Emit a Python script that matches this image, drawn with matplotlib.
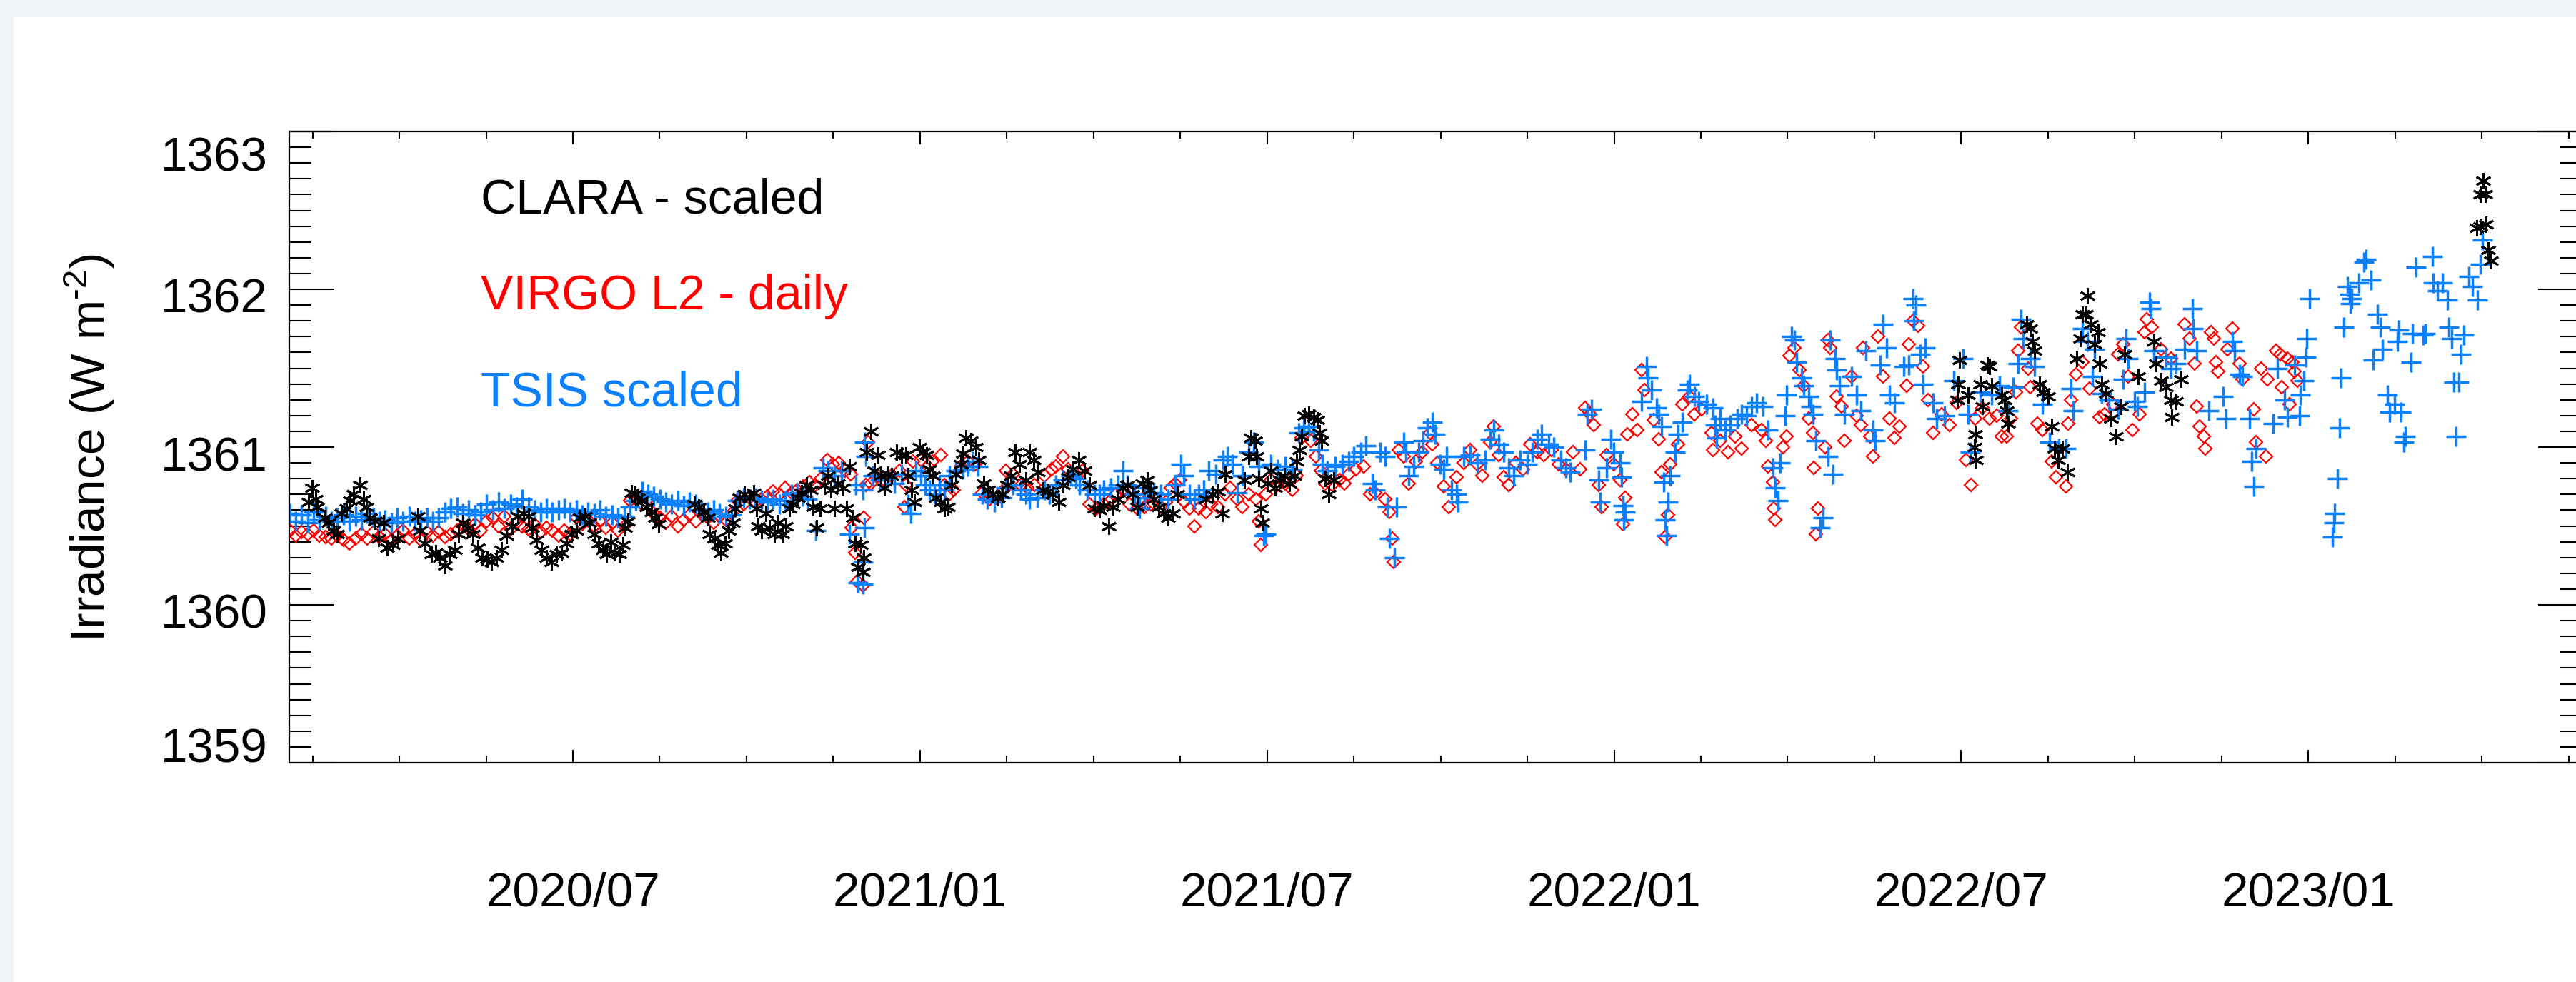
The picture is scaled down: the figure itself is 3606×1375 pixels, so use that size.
import numpy as np
import matplotlib.pyplot as plt
from matplotlib.ticker import MultipleLocator
from matplotlib.transforms import ScaledTranslation
from matplotlib.patches import Rectangle

plt.rcParams['font.family'] = ['Liberation Sans', 'DejaVu Sans']
plt.rcParams['mathtext.default'] = 'regular'

# ---- data (decimal year, irradiance W m-2) ----
# daily runs at the start, listed at a regular cadence
dense_start = 2020.092
dense_step = 0.0086

tsis_dense = [
    1360.58, 1360.53, 1360.57, 1360.52, 1360.59, 1360.54,
    1360.56, 1360.53, 1360.55, 1360.57, 1360.53, 1360.56, 1360.54, 1360.58,
    1360.55, 1360.53, 1360.54, 1360.52, 1360.55, 1360.53, 1360.56, 1360.53, 1360.54, 1360.55, 1360.53, 1360.55,
    1360.59, 1360.61, 1360.62, 1360.58, 1360.60, 1360.57, 1360.59,
    1360.64, 1360.60, 1360.65, 1360.61, 1360.64, 1360.62, 1360.67,
    1360.62, 1360.60, 1360.59, 1360.61, 1360.59, 1360.60, 1360.61, 1360.59,
    1360.60, 1360.57, 1360.59, 1360.58, 1360.60,
    1360.56, 1360.57, 1360.55, 1360.56,
    1360.62, 1360.66, 1360.72, 1360.70, 1360.69, 1360.67,
    1360.65, 1360.64, 1360.66, 1360.63, 1360.65, 1360.64,
    1360.60, 1360.59, 1360.60, 1360.58, 1360.56, 1360.57,
    1360.66, 1360.68, 1360.67, 1360.68,
    1360.66, 1360.65, 1360.67, 1360.64, 1360.66,
    1360.70, 1360.71, 1360.69,
]

virgo_dense = [
    1360.47, 1360.44, 1360.46, 1360.45, 1360.47, 1360.44,
    1360.43, 1360.42, 1360.44, 1360.41, 1360.39, 1360.42,
    1360.45, 1360.42, 1360.46, 1360.43, 1360.45, 1360.41, 1360.44,
    1360.47, 1360.42, 1360.45, 1360.41, 1360.46,
    1360.44, 1360.46, 1360.43, 1360.45, 1360.47,
    1360.50, 1360.48, 1360.51, 1360.47,
    1360.53, 1360.55, 1360.50, 1360.56, 1360.48, 1360.52,
    1360.50, 1360.48, 1360.51, 1360.46, 1360.49, 1360.47,
    1360.44, 1360.47, 1360.45,
    1360.55, 1360.51, 1360.54, 1360.50, 1360.53,
    1360.49, 1360.52, 1360.47, 1360.50,
    1360.66, 1360.68, 1360.64, 1360.67,
    1360.58, 1360.55, 1360.52, 1360.56, 1360.50, 1360.54,
    1360.57, 1360.53, 1360.59, 1360.55, 1360.52, 1360.56, 1360.54, 1360.58,
    1360.66, 1360.64, 1360.68, 1360.65, 1360.67, 1360.69,
    1360.72, 1360.70, 1360.74, 1360.71, 1360.73, 1360.75,
    1360.78, 1360.76, 1360.80, 1360.92, 1360.89, 1360.90, 1360.85, 1360.83,
]

clara_pts = [
    (2020.119, 1360.65), (2020.124, 1360.74), (2020.129, 1360.67), (2020.132, 1360.62), (2020.143, 1360.55),
    (2020.148, 1360.52), (2020.155, 1360.47), (2020.160, 1360.45), (2020.167, 1360.58), (2020.174, 1360.61),
    (2020.179, 1360.66), (2020.184, 1360.70), (2020.193, 1360.76), (2020.198, 1360.67), (2020.203, 1360.62),
    (2020.208, 1360.55), (2020.215, 1360.53), (2020.220, 1360.42), (2020.227, 1360.52), (2020.232, 1360.36),
    (2020.241, 1360.38), (2020.248, 1360.42), (2020.277, 1360.56), (2020.280, 1360.47), (2020.287, 1360.39),
    (2020.296, 1360.32), (2020.302, 1360.33), (2020.309, 1360.30), (2020.316, 1360.25), (2020.323, 1360.32),
    (2020.330, 1360.35), (2020.335, 1360.45), (2020.342, 1360.52), (2020.349, 1360.49), (2020.356, 1360.45),
    (2020.363, 1360.36), (2020.369, 1360.30), (2020.376, 1360.29), (2020.383, 1360.27), (2020.390, 1360.30),
    (2020.397, 1360.35), (2020.404, 1360.44), (2020.412, 1360.50), (2020.421, 1360.56), (2020.429, 1360.58),
    (2020.436, 1360.56), (2020.441, 1360.49), (2020.448, 1360.41), (2020.455, 1360.35), (2020.462, 1360.30),
    (2020.469, 1360.27), (2020.476, 1360.32), (2020.484, 1360.33), (2020.491, 1360.39), (2020.498, 1360.45),
    (2020.505, 1360.47), (2020.510, 1360.55), (2020.517, 1360.56), (2020.524, 1360.52), (2020.531, 1360.45),
    (2020.537, 1360.39), (2020.543, 1360.35), (2020.548, 1360.32), (2020.555, 1360.40), (2020.561, 1360.33),
    (2020.567, 1360.32), (2020.572, 1360.38), (2020.575, 1360.49), (2020.579, 1360.53), (2020.584, 1360.71),
    (2020.589, 1360.70), (2020.594, 1360.68), (2020.599, 1360.66), (2020.606, 1360.62), (2020.613, 1360.59),
    (2020.618, 1360.55), (2020.623, 1360.51), (2020.675, 1360.64), (2020.681, 1360.62), (2020.688, 1360.59),
    (2020.694, 1360.55), (2020.697, 1360.45), (2020.704, 1360.42), (2020.709, 1360.38), (2020.713, 1360.33),
    (2020.719, 1360.39), (2020.724, 1360.47), (2020.730, 1360.52), (2020.734, 1360.61), (2020.740, 1360.68),
    (2020.747, 1360.70), (2020.754, 1360.68), (2020.760, 1360.71), (2020.764, 1360.61), (2020.767, 1360.50),
    (2020.772, 1360.47), (2020.778, 1360.58), (2020.783, 1360.49), (2020.790, 1360.45), (2020.795, 1360.52),
    (2020.802, 1360.45), (2020.807, 1360.50), (2020.812, 1360.61), (2020.817, 1360.64), (2020.824, 1360.68),
    (2020.829, 1360.71), (2020.836, 1360.76), (2020.843, 1360.73), (2020.846, 1360.62), (2020.851, 1360.49),
    (2020.856, 1360.61), (2020.862, 1360.76), (2020.867, 1360.82), (2020.872, 1360.73), (2020.877, 1360.61),
    (2020.882, 1360.77), (2020.889, 1360.74), (2020.894, 1360.61), (2020.898, 1360.88), (2020.903, 1360.55),
    (2020.907, 1360.39), (2020.911, 1360.24), (2020.915, 1360.38), (2020.918, 1360.21), (2020.919, 1360.30),
    (2020.923, 1360.97), (2020.929, 1361.10), (2020.934, 1360.85), (2020.939, 1360.95), (2020.944, 1360.82),
    (2020.949, 1360.74), (2020.954, 1360.83), (2020.959, 1360.82), (2020.966, 1360.97), (2020.973, 1360.95),
    (2020.980, 1360.95), (2020.983, 1360.82), (2020.988, 1360.73), (2020.992, 1360.65), (2020.999, 1361.00),
    (2021.004, 1360.97), (2021.009, 1360.95), (2021.014, 1360.86), (2021.019, 1360.82), (2021.023, 1360.68),
    (2021.030, 1360.65), (2021.035, 1360.61), (2021.040, 1360.62), (2021.045, 1360.76), (2021.052, 1360.83),
    (2021.059, 1360.89), (2021.062, 1360.96), (2021.066, 1361.06), (2021.073, 1361.04), (2021.080, 1361.00),
    (2021.085, 1360.92), (2021.092, 1360.77), (2021.098, 1360.73), (2021.105, 1360.70), (2021.112, 1360.68),
    (2021.119, 1360.70), (2021.126, 1360.76), (2021.131, 1360.82), (2021.137, 1360.97), (2021.143, 1360.89),
    (2021.152, 1360.79), (2021.158, 1360.97), (2021.164, 1360.92), (2021.170, 1360.84), (2021.177, 1360.73),
    (2021.184, 1360.72), (2021.191, 1360.70), (2021.200, 1360.65), (2021.206, 1360.76), (2021.213, 1360.81),
    (2021.220, 1360.86), (2021.229, 1360.92), (2021.237, 1360.85), (2021.244, 1360.76), (2021.251, 1360.61),
    (2021.258, 1360.60), (2021.265, 1360.63), (2021.272, 1360.50), (2021.278, 1360.62), (2021.285, 1360.67),
    (2021.292, 1360.74), (2021.299, 1360.76), (2021.306, 1360.70), (2021.313, 1360.62), (2021.320, 1360.77),
    (2021.327, 1360.79), (2021.332, 1360.73), (2021.337, 1360.67), (2021.344, 1360.62), (2021.351, 1360.58),
    (2021.357, 1360.55), (2021.364, 1360.58), (2021.371, 1360.70), (2021.412, 1360.67), (2021.421, 1360.70),
    (2021.429, 1360.72), (2021.435, 1360.58), (2021.440, 1360.83), (2021.467, 1360.79), (2021.474, 1360.94),
    (2021.477, 1361.06), (2021.483, 1361.04), (2021.485, 1360.94), (2021.488, 1360.80), (2021.491, 1360.61),
    (2021.493, 1360.52), (2021.500, 1360.77), (2021.505, 1360.85), (2021.512, 1360.74), (2021.519, 1360.79),
    (2021.525, 1360.82), (2021.532, 1360.77), (2021.539, 1360.82), (2021.543, 1360.91), (2021.547, 1360.98),
    (2021.550, 1361.07), (2021.554, 1361.20), (2021.560, 1361.21), (2021.567, 1361.19), (2021.572, 1361.17),
    (2021.575, 1361.09), (2021.579, 1361.04), (2021.584, 1360.80), (2021.589, 1360.70), (2021.596, 1360.79),
    (2022.495, 1361.30), (2022.496, 1361.40), (2022.498, 1361.55), (2022.510, 1361.33), (2022.519, 1361.00),
    (2022.520, 1361.08), (2022.521, 1360.92), (2022.527, 1361.40), (2022.531, 1361.26), (2022.538, 1361.52),
    (2022.541, 1361.51), (2022.544, 1361.39), (2022.558, 1361.33), (2022.562, 1361.30), (2022.565, 1361.23),
    (2022.568, 1361.15), (2022.594, 1361.78), (2022.599, 1361.75), (2022.603, 1361.67), (2022.606, 1361.61),
    (2022.613, 1361.40), (2022.618, 1361.35), (2022.625, 1361.32), (2022.630, 1361.13), (2022.634, 1360.99),
    (2022.640, 1360.92), (2022.646, 1360.99), (2022.653, 1360.84), (2022.666, 1361.56), (2022.671, 1361.69),
    (2022.675, 1361.84), (2022.680, 1361.84), (2022.682, 1361.96), (2022.687, 1361.78), (2022.692, 1361.65),
    (2022.697, 1361.73), (2022.699, 1361.53), (2022.702, 1361.40), (2022.709, 1361.34), (2022.716, 1361.18),
    (2022.723, 1361.07), (2022.730, 1361.26), (2022.735, 1361.59), (2022.755, 1361.45), (2022.778, 1361.67),
    (2022.781, 1361.53), (2022.788, 1361.42), (2022.795, 1361.38), (2022.802, 1361.30), (2022.803, 1361.19),
    (2022.809, 1361.29), (2022.817, 1361.43),
    (2023.243, 1362.39), (2023.248, 1362.60), (2023.248, 1362.40), (2023.252, 1362.69), (2023.255, 1362.60),
    (2023.256, 1362.41), (2023.259, 1362.25), (2023.263, 1362.18),
]

tsis_pts = [
    (2020.838, 1360.67), (2020.850, 1360.47), (2020.860, 1360.87), (2020.867, 1360.85), (2020.877, 1360.82),
    (2020.887, 1360.85), (2020.898, 1360.45), (2020.908, 1360.76), (2020.911, 1360.14), (2020.918, 1360.13),
    (2020.918, 1360.27), (2020.920, 1360.49), (2020.918, 1360.73), (2020.922, 1360.94), (2020.920, 1361.03),
    (2020.932, 1360.82), (2020.942, 1360.79), (2020.953, 1360.80), (2020.963, 1360.77), (2020.973, 1360.83),
    (2020.983, 1360.64), (2020.987, 1360.58), (2020.994, 1360.85), (2021.001, 1360.82), (2021.007, 1360.76),
    (2021.014, 1360.73), (2021.021, 1360.70), (2021.028, 1360.76), (2021.035, 1360.73), (2021.042, 1360.82),
    (2021.052, 1360.85), (2021.062, 1360.86), (2021.069, 1360.88), (2021.076, 1360.91), (2021.083, 1360.88),
    (2021.090, 1360.70), (2021.097, 1360.67), (2021.107, 1360.65), (2021.117, 1360.68), (2021.124, 1360.74),
    (2021.134, 1360.76), (2021.145, 1360.73), (2021.152, 1360.70), (2021.158, 1360.67), (2021.169, 1360.68),
    (2021.179, 1360.73), (2021.186, 1360.70), (2021.196, 1360.76), (2021.206, 1360.79), (2021.217, 1360.82),
    (2021.224, 1360.80), (2021.230, 1360.76), (2021.241, 1360.73), (2021.251, 1360.70), (2021.258, 1360.70),
    (2021.265, 1360.73), (2021.275, 1360.74), (2021.285, 1360.76), (2021.292, 1360.85), (2021.299, 1360.76),
    (2021.309, 1360.70), (2021.316, 1360.61), (2021.323, 1360.68),
    (2021.327, 1360.74), (2021.337, 1360.71), (2021.347, 1360.70), (2021.357, 1360.67), (2021.368, 1360.76),
    (2021.376, 1360.89), (2021.380, 1360.82), (2021.388, 1360.70), (2021.395, 1360.67), (2021.402, 1360.70),
    (2021.409, 1360.73), (2021.416, 1360.85), (2021.426, 1360.83), (2021.436, 1360.92), (2021.443, 1360.94),
    (2021.450, 1360.89), (2021.457, 1360.71), (2021.464, 1360.82), (2021.474, 1360.97), (2021.481, 1361.03),
    (2021.488, 1360.88), (2021.495, 1360.44), (2021.498, 1360.45), (2021.505, 1360.89), (2021.515, 1360.86),
    (2021.526, 1360.88), (2021.536, 1360.86), (2021.546, 1361.09), (2021.553, 1361.12), (2021.560, 1361.13),
    (2021.567, 1361.10), (2021.574, 1360.98), (2021.580, 1360.89), (2021.587, 1360.85), (2021.598, 1360.88),
    (2021.608, 1360.89), (2021.618, 1360.91), (2021.625, 1360.94), (2021.635, 1360.97), (2021.642, 1361.01),
    (2021.652, 1360.77), (2021.656, 1360.73), (2021.663, 1360.97), (2021.670, 1360.94), (2021.673, 1360.62),
    (2021.676, 1360.42), (2021.683, 1360.30), (2021.687, 1360.62), (2021.697, 1361.03), (2021.700, 1360.97),
    (2021.704, 1360.82), (2021.711, 1360.88), (2021.718, 1360.97), (2021.725, 1361.04), (2021.731, 1361.12),
    (2021.738, 1361.16), (2021.742, 1361.08), (2021.749, 1360.89), (2021.755, 1360.86), (2021.759, 1360.94),
    (2021.766, 1360.73), (2021.773, 1360.70), (2021.775, 1360.65), (2021.783, 1360.94), (2021.793, 1360.95),
    (2021.803, 1360.90), (2021.814, 1360.92), (2021.821, 1361.05), (2021.827, 1361.11), (2021.834, 1361.02),
    (2021.841, 1360.97), (2021.848, 1360.87), (2021.855, 1360.82), (2021.865, 1360.92), (2021.875, 1360.89),
    (2021.882, 1360.97), (2021.889, 1361.05), (2021.896, 1361.08), (2021.906, 1361.02), (2021.913, 1361.00),
    (2021.923, 1360.92), (2021.930, 1360.87), (2021.937, 1360.84), (2021.958, 1360.98), (2021.961, 1361.21),
    (2021.968, 1361.24), (2021.978, 1360.79), (2021.980, 1360.65), (2021.989, 1360.87), (2021.995, 1361.05),
    (2021.999, 1360.97), (2022.009, 1360.90), (2022.011, 1360.81), (2022.013, 1360.63), (2022.016, 1360.59),
    (2022.014, 1360.54), (2022.040, 1361.29), (2022.047, 1361.51), (2022.049, 1361.44), (2022.054, 1361.36),
    (2022.061, 1361.25), (2022.064, 1361.21), (2022.068, 1361.13), (2022.071, 1360.78), (2022.078, 1360.65),
    (2022.074, 1360.54), (2022.076, 1360.44), (2022.081, 1360.82), (2022.088, 1360.97), (2022.092, 1361.08),
    (2022.098, 1361.16), (2022.105, 1361.36), (2022.109, 1361.40), (2022.116, 1361.32), (2022.122, 1361.29),
    (2022.133, 1361.27), (2022.143, 1361.25), (2022.146, 1361.14), (2022.148, 1361.06),
    (2022.153, 1361.18), (2022.160, 1361.11), (2022.167, 1361.14), (2022.177, 1361.18), (2022.184, 1361.21),
    (2022.191, 1361.20), (2022.198, 1361.26), (2022.205, 1361.28), (2022.215, 1361.26), (2022.222, 1361.11),
    (2022.229, 1360.87), (2022.232, 1360.74), (2022.236, 1360.66), (2022.239, 1360.90), (2022.246, 1361.20),
    (2022.249, 1361.33), (2022.256, 1361.70), (2022.260, 1361.68), (2022.263, 1361.54), (2022.270, 1361.44),
    (2022.273, 1361.39), (2022.280, 1361.32), (2022.284, 1361.26), (2022.287, 1361.21), (2022.291, 1361.04),
    (2022.297, 1360.49), (2022.301, 1360.55), (2022.308, 1360.94), (2022.311, 1361.68), (2022.315, 1360.83),
    (2022.318, 1361.56), (2022.321, 1361.49), (2022.325, 1361.39), (2022.332, 1361.21), (2022.342, 1361.45),
    (2022.349, 1361.33), (2022.356, 1361.23), (2022.363, 1361.61), (2022.373, 1361.11), (2022.376, 1361.04),
    (2022.383, 1361.52), (2022.387, 1361.78), (2022.393, 1361.63), (2022.397, 1361.33), (2022.404, 1361.28),
    (2022.417, 1361.51), (2022.424, 1361.52), (2022.431, 1361.94), (2022.435, 1361.90), (2022.432, 1361.80),
    (2022.441, 1361.59), (2022.448, 1361.63), (2022.445, 1361.40), (2022.459, 1361.28), (2022.465, 1361.18),
    (2022.476, 1361.20), (2022.489, 1361.42), (2022.503, 1361.56), (2022.510, 1361.21), (2022.513, 1360.97),
    (2022.527, 1361.35), (2022.544, 1361.33), (2022.555, 1361.39),
    (2022.568, 1361.23), (2022.575, 1361.38), (2022.582, 1361.53), (2022.586, 1361.81), (2022.589, 1361.69),
    (2022.599, 1361.56), (2022.606, 1361.51), (2022.617, 1361.27), (2022.627, 1361.03), (2022.641, 1360.99),
    (2022.651, 1360.99), (2022.658, 1361.37), (2022.661, 1361.23), (2022.675, 1361.75), (2022.682, 1361.67),
    (2022.689, 1361.45), (2022.692, 1361.62), (2022.702, 1361.34), (2022.713, 1361.30), (2022.726, 1361.24),
    (2022.733, 1361.43), (2022.737, 1361.69), (2022.740, 1361.56), (2022.750, 1361.29), (2022.754, 1361.26),
    (2022.764, 1361.35), (2022.771, 1361.92), (2022.773, 1361.88), (2022.778, 1361.61), (2022.795, 1361.57),
    (2022.802, 1361.50), (2022.809, 1361.53), (2022.822, 1361.62), (2022.833, 1361.88), (2022.834, 1361.75),
    (2022.839, 1361.61), (2022.857, 1361.23), (2022.877, 1361.32), (2022.881, 1361.18), (2022.891, 1361.67),
    (2022.894, 1361.61), (2022.901, 1361.46), (2022.905, 1361.45), (2022.915, 1361.18), (2022.925, 1360.99),
    (2022.918, 1360.91), (2022.922, 1360.75), (2022.949, 1361.15), (2022.956, 1361.50), (2022.966, 1361.30),
    (2022.970, 1361.19),
    (2022.980, 1361.52), (2022.987, 1361.20), (2022.988, 1361.33), (2022.994, 1361.42), (2022.997, 1361.57),
    (2022.998, 1361.69), (2023.002, 1361.94), (2023.035, 1360.43), (2023.037, 1360.52), (2023.038, 1360.58),
    (2023.042, 1360.80), (2023.045, 1361.12), (2023.047, 1361.44), (2023.051, 1361.76), (2023.056, 1362.02),
    (2023.059, 1361.97), (2023.061, 1361.91), (2023.063, 1361.94), (2023.073, 1362.04), (2023.080, 1362.17),
    (2023.083, 1362.19), (2023.090, 1362.06), (2023.093, 1361.55), (2023.100, 1361.84), (2023.104, 1361.76),
    (2023.107, 1361.62), (2023.114, 1361.33), (2023.117, 1361.22), (2023.124, 1361.27), (2023.128, 1361.67),
    (2023.131, 1361.74), (2023.134, 1361.22), (2023.138, 1361.03), (2023.140, 1361.07), (2023.148, 1361.54),
    (2023.150, 1361.72), (2023.155, 1362.14), (2023.165, 1361.71), (2023.169, 1361.72), (2023.179, 1362.21),
    (2023.180, 1362.04), (2023.186, 1361.99), (2023.193, 1362.04), (2023.200, 1361.93), (2023.203, 1361.76),
    (2023.207, 1361.69), (2023.210, 1361.41), (2023.213, 1361.07), (2023.217, 1361.41), (2023.220, 1361.59),
    (2023.224, 1361.71), (2023.231, 1362.08), (2023.237, 1362.02), (2023.244, 1361.93), (2023.248, 1362.16),
    (2023.251, 1362.31),
]

virgo_pts = [
    (2020.901, 1360.49), (2020.906, 1360.33), (2020.910, 1360.15), (2020.918, 1360.12), (2020.919, 1360.55),
    (2020.922, 1360.76), (2020.925, 1361.03), (2020.929, 1360.77), (2020.939, 1360.82), (2020.949, 1360.79),
    (2020.959, 1360.82), (2020.970, 1360.85), (2020.977, 1360.62), (2020.980, 1360.76), (2020.990, 1360.91),
    (2021.001, 1360.92), (2021.011, 1360.88), (2021.018, 1360.91), (2021.030, 1360.95), (2021.035, 1360.76),
    (2021.042, 1360.70), (2021.049, 1360.73), (2021.059, 1360.88), (2021.069, 1360.91), (2021.079, 1360.89),
    (2021.090, 1360.71), (2021.100, 1360.67), (2021.110, 1360.68), (2021.121, 1360.73), (2021.124, 1360.85),
    (2021.134, 1360.83), (2021.145, 1360.76), (2021.155, 1360.74), (2021.165, 1360.76), (2021.179, 1360.82),
    (2021.189, 1360.86), (2021.196, 1360.88), (2021.206, 1360.94), (2021.213, 1360.86), (2021.224, 1360.83),
    (2021.234, 1360.85), (2021.244, 1360.64), (2021.254, 1360.61), (2021.265, 1360.64), (2021.272, 1360.65),
    (2021.282, 1360.70), (2021.292, 1360.73), (2021.302, 1360.64), (2021.313, 1360.61), (2021.323, 1360.62),
    (2021.327, 1360.70), (2021.333, 1360.64), (2021.340, 1360.67), (2021.347, 1360.62), (2021.354, 1360.65),
    (2021.361, 1360.74), (2021.368, 1360.77), (2021.375, 1360.79), (2021.381, 1360.65), (2021.388, 1360.61),
    (2021.395, 1360.50), (2021.402, 1360.61), (2021.412, 1360.59), (2021.419, 1360.64), (2021.429, 1360.62),
    (2021.440, 1360.70), (2021.447, 1360.74), (2021.457, 1360.67), (2021.464, 1360.62), (2021.474, 1360.70),
    (2021.484, 1360.67), (2021.488, 1360.53), (2021.491, 1360.38), (2021.498, 1360.70), (2021.505, 1360.79),
    (2021.515, 1360.76), (2021.526, 1360.77), (2021.536, 1360.73), (2021.543, 1360.82), (2021.550, 1361.06),
    (2021.556, 1361.09), (2021.563, 1361.04), (2021.570, 1360.94), (2021.577, 1360.85), (2021.584, 1360.77),
    (2021.594, 1360.76), (2021.604, 1360.79), (2021.611, 1360.77), (2021.618, 1360.83), (2021.628, 1360.86),
    (2021.639, 1360.88), (2021.649, 1360.70), (2021.656, 1360.71), (2021.670, 1360.67), (2021.676, 1360.59),
    (2021.680, 1360.42), (2021.682, 1360.27), (2021.690, 1360.98), (2021.697, 1360.94), (2021.704, 1360.77),
    (2021.714, 1360.91), (2021.724, 1360.97), (2021.735, 1361.09),
    (2021.738, 1361.02), (2021.745, 1360.90), (2021.755, 1360.75), (2021.762, 1360.62), (2021.773, 1360.81),
    (2021.783, 1360.90), (2021.793, 1360.98), (2021.803, 1360.89), (2021.810, 1360.82), (2021.821, 1361.03),
    (2021.827, 1361.13), (2021.834, 1360.95), (2021.841, 1360.81), (2021.848, 1360.76), (2021.858, 1360.90),
    (2021.869, 1360.86), (2021.879, 1361.02), (2021.889, 1360.97), (2021.899, 1360.95), (2021.910, 1360.98),
    (2021.920, 1360.89), (2021.930, 1360.86), (2021.941, 1360.97), (2021.951, 1360.86), (2021.958, 1361.25),
    (2021.965, 1361.21), (2021.971, 1361.14), (2021.978, 1360.76), (2021.982, 1360.62), (2021.989, 1360.95),
    (2021.999, 1360.89), (2022.009, 1360.79), (2022.016, 1360.68), (2022.013, 1360.51), (2022.019, 1361.08),
    (2022.026, 1361.21), (2022.033, 1361.11), (2022.040, 1361.49), (2022.044, 1361.36), (2022.057, 1361.17),
    (2022.064, 1361.05), (2022.068, 1360.84), (2022.078, 1360.57), (2022.074, 1360.43), (2022.081, 1360.89),
    (2022.092, 1361.02), (2022.098, 1361.27), (2022.109, 1361.32), (2022.116, 1361.21), (2022.126, 1361.24),
    (2022.140, 1361.09), (2022.143, 1360.98),
    (2022.153, 1361.04), (2022.164, 1360.97), (2022.174, 1361.07), (2022.184, 1360.99), (2022.198, 1361.14),
    (2022.212, 1361.11), (2022.219, 1361.04), (2022.222, 1360.88), (2022.229, 1360.78), (2022.230, 1360.61),
    (2022.232, 1360.54), (2022.243, 1361.00), (2022.249, 1361.07), (2022.253, 1361.58), (2022.260, 1361.63),
    (2022.267, 1361.49), (2022.273, 1361.39), (2022.280, 1361.18), (2022.287, 1361.09), (2022.288, 1360.87),
    (2022.294, 1360.61), (2022.291, 1360.45), (2022.304, 1361.00), (2022.308, 1361.68), (2022.311, 1361.63),
    (2022.321, 1361.32), (2022.328, 1361.26), (2022.332, 1361.04), (2022.342, 1361.45), (2022.349, 1361.20),
    (2022.356, 1361.14), (2022.359, 1361.63), (2022.369, 1361.07), (2022.373, 1360.94), (2022.380, 1361.70),
    (2022.387, 1361.45), (2022.397, 1361.18), (2022.404, 1361.06), (2022.411, 1361.13), (2022.421, 1361.39),
    (2022.424, 1361.65), (2022.431, 1361.80), (2022.438, 1361.77), (2022.445, 1361.51), (2022.452, 1361.30),
    (2022.459, 1361.09), (2022.472, 1361.21), (2022.483, 1361.14), (2022.493, 1361.28), (2022.507, 1360.92),
    (2022.514, 1360.76), (2022.520, 1361.18), (2022.531, 1361.25), (2022.541, 1361.18), (2022.551, 1361.20),
    (2022.558, 1361.07),
    (2022.565, 1361.07), (2022.572, 1361.18), (2022.579, 1361.35), (2022.582, 1361.61), (2022.586, 1361.76),
    (2022.596, 1361.50), (2022.599, 1361.38), (2022.610, 1361.15), (2022.617, 1361.11), (2022.630, 1360.91),
    (2022.637, 1360.81), (2022.651, 1360.75), (2022.654, 1361.15), (2022.658, 1361.30), (2022.665, 1361.46),
    (2022.675, 1361.54), (2022.685, 1361.37), (2022.699, 1361.19), (2022.706, 1361.21), (2022.719, 1361.27),
    (2022.726, 1361.59), (2022.733, 1361.65), (2022.740, 1361.45), (2022.747, 1361.11), (2022.757, 1361.21),
    (2022.764, 1361.73), (2022.767, 1361.81), (2022.774, 1361.76), (2022.788, 1361.62), (2022.802, 1361.56),
    (2022.822, 1361.78), (2022.829, 1361.69), (2022.836, 1361.53), (2022.839, 1361.26), (2022.843, 1361.13),
    (2022.850, 1361.07), (2022.852, 1360.99), (2022.860, 1361.73), (2022.864, 1361.69), (2022.867, 1361.54),
    (2022.870, 1361.48), (2022.884, 1361.62), (2022.891, 1361.75), (2022.901, 1361.53), (2022.905, 1361.43),
    (2022.922, 1361.24), (2022.925, 1361.03), (2022.939, 1360.94), (2022.932, 1361.50), (2022.941, 1361.43),
    (2022.953, 1361.61), (2022.960, 1361.59), (2022.962, 1361.38), (2022.970, 1361.56),
    (2022.973, 1361.27), (2022.977, 1361.54), (2022.980, 1361.48), (2022.984, 1361.42),
]

xtick_years = [2020.5, 2021.0, 2021.5, 2022.0, 2022.5, 2023.0]
xtick_labels = ['2020/07', '2021/01', '2021/07', '2022/01', '2022/07', '2023/01']
ytick_vals = [1359, 1360, 1361, 1362, 1363]

labels = ['CLARA - scaled', 'VIRGO L2 - daily', 'TSIS scaled']
blue = '#0a80ff'
colors = ['black', 'red', blue]

# ---- assemble series ----
dense_year = dense_start + dense_step * np.arange(max(len(tsis_dense), len(virgo_dense)))
clara_year, clara_irr = zip(*clara_pts)
tsis_year = np.concatenate([dense_year[:len(tsis_dense)], [p[0] for p in tsis_pts]])
tsis_irr = np.concatenate([tsis_dense, [p[1] for p in tsis_pts]])
virgo_year = np.concatenate([dense_year[:len(virgo_dense)], [p[0] for p in virgo_pts]])
virgo_irr = np.concatenate([virgo_dense, [p[1] for p in virgo_pts]])

# ---- figure ----
W, H = 3606, 1375
fig = plt.figure(figsize=(W / 100, H / 100), dpi=100)
fig.patch.set_facecolor('#eff4f9')
fig.patches.append(Rectangle((19 / W, 0), 1, 1 - 24 / H, transform=fig.transFigure,
                             facecolor='white', edgecolor='none', zorder=-10))

ax = fig.add_axes([405 / W, 1 - 1068 / H, (3615 - 405) / W, (1068 - 184) / H])
ax.set_zorder(1)

ax.plot(virgo_year, virgo_irr, ls='none', marker='D', ms=9.5, mfc='none', mec='red', mew=1.6)
ax.plot(tsis_year, tsis_irr, ls='none', marker='+', ms=20, mec=blue, mew=2.5)
ax.plot(clara_year, clara_irr, ls='none', marker=(6, 2, 0), ms=16, mec='black', mew=2.1)

ax.set_xlim(2020.0914, 2023.395)
ax.set_ylim(1359, 1363)
ax.set_xticks(xtick_years)
ax.set_xticklabels(xtick_labels)
ax.xaxis.set_minor_locator(MultipleLocator(0.125))
ax.set_yticks(ytick_vals)
ax.yaxis.set_minor_locator(MultipleLocator(0.1))

ax.tick_params(axis='x', which='major', direction='in', length=13, width=1.5,
               top=True, bottom=True, labelsize=48.5, pad=110)
ax.tick_params(axis='x', which='minor', direction='in', length=7.5, width=1.5, top=True, bottom=True)
ax.tick_params(axis='y', which='major', direction='in', length=45, width=1.5,
               left=True, right=True, labelleft=False)
ax.tick_params(axis='y', which='minor', direction='in', length=22.5, width=1.5, left=True, right=True)
for s in ax.spines.values():
    s.set_linewidth(1.6)

# y tick labels, IDL style: end labels pulled inside the axis range
for v in ytick_vals:
    drop = 0.33
    if v == ytick_vals[-1]:
        drop = 0.56
    elif v == ytick_vals[0]:
        drop = 0.0
    tr = ax.get_yaxis_transform() + ScaledTranslation(-0.30, -drop, fig.dpi_scale_trans)
    ax.text(0, v, str(v), transform=tr, ha='right', va='baseline', fontsize=48.5)

fig.text(125 / W, 1 - 627 / H, 'Irradiance (W m$^{\u2010 2}$)', rotation=90,
         ha='center', va='center', fontsize=48.5)

for lab, col, yy in zip(labels, colors, [0.871, 0.718, 0.5645]):
    ax.text(0.0835, yy, lab, transform=ax.transAxes, color=col, fontsize=49,
            ha='left', va='baseline')

fig.savefig('out.png', dpi=100)
